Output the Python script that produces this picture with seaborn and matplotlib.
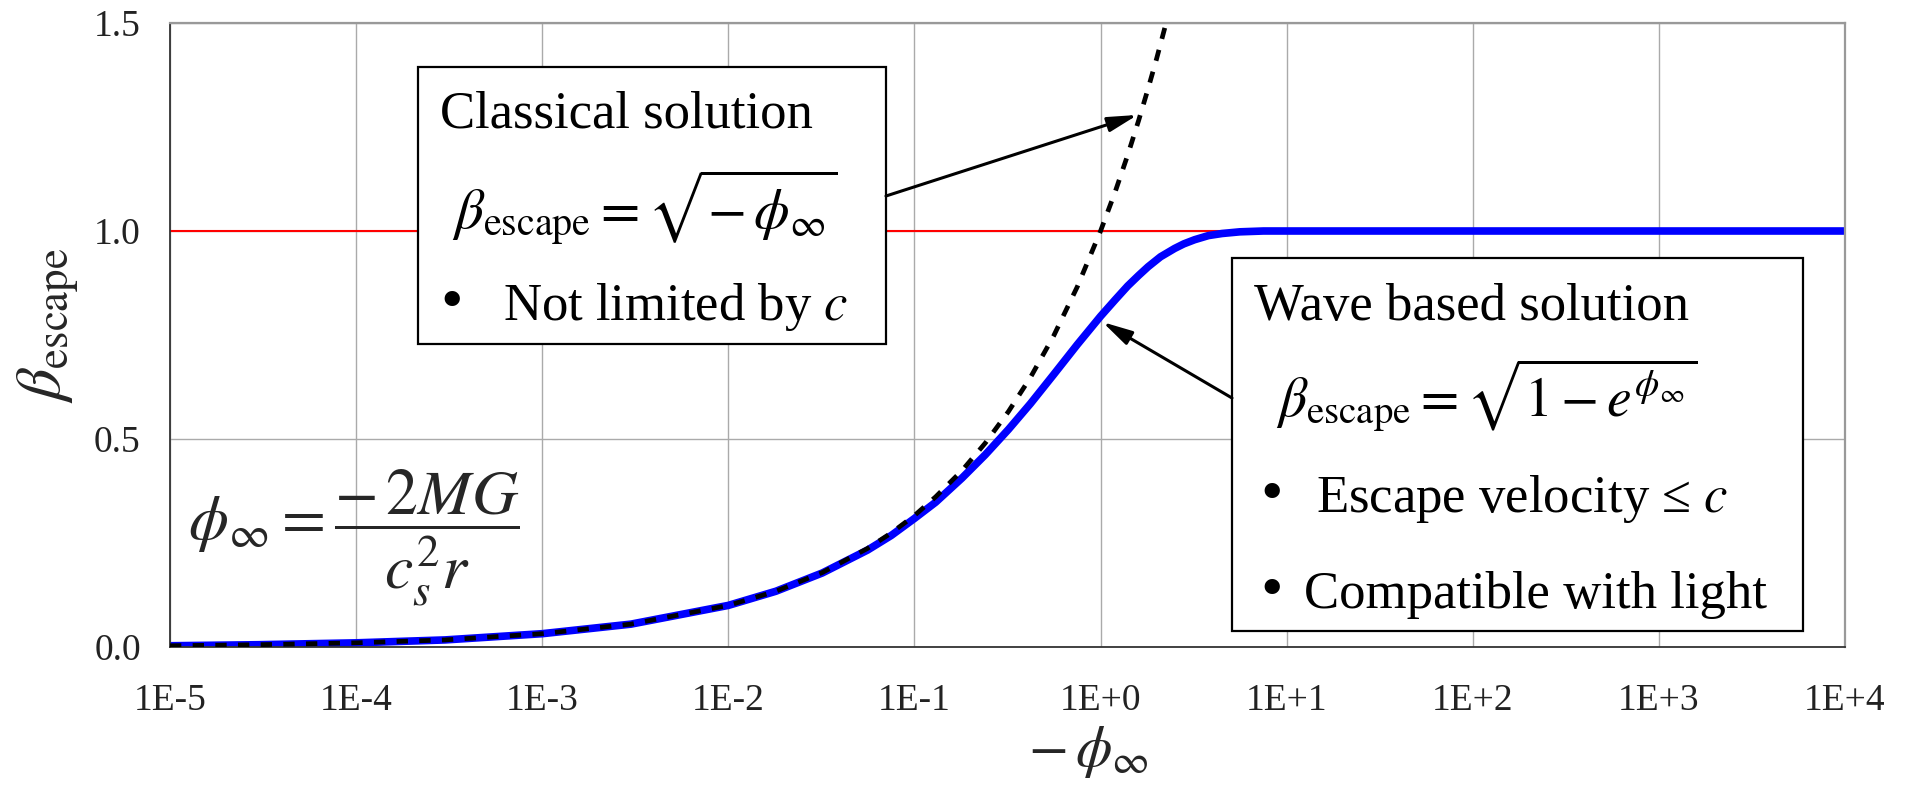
import numpy as np
import pandas as pd
import matplotlib
matplotlib.use("Agg")
import matplotlib.pyplot as plt
import seaborn as sns
from matplotlib.patches import Rectangle
from matplotlib.ticker import NullLocator

# values
phi_wave = [1e-5, 3e-5, 1e-4, 3e-4, 1e-3, 3e-3, 1e-2, 1.8e-2, 3.2e-2, 5.6e-2,
            0.075, 0.1, 0.13, 0.18, 0.24, 0.32, 0.42, 0.56, 0.75, 1.0, 1.2, 1.4,
            1.6, 1.8, 2.1, 2.5, 2.8, 3.2, 3.8, 4.5, 5.6, 7.5, 10, 100, 1e4]
beta_wave = [0.003, 0.0055, 0.010, 0.017, 0.032, 0.055, 0.100, 0.134, 0.178, 0.233,
             0.268, 0.309, 0.348, 0.406, 0.462, 0.523, 0.585, 0.655, 0.727, 0.795, 0.835, 0.868,
             0.893, 0.914, 0.938, 0.958, 0.969, 0.979, 0.989, 0.994, 0.998, 1.0,
             1.0, 1.0, 1.0]

phi_classic = [1e-5, 3e-5, 1e-4, 3e-4, 1e-3, 3e-3, 1e-2, 1.8e-2, 3.2e-2, 5.6e-2,
               0.075, 0.1, 0.13, 0.18, 0.24, 0.32, 0.42, 0.56, 0.75, 1.0, 1.2, 1.4,
               1.6, 1.8, 2.0, 2.25]
beta_classic = [0.003, 0.0055, 0.010, 0.017, 0.032, 0.055, 0.100, 0.134, 0.179, 0.237,
                0.274, 0.316, 0.361, 0.424, 0.490, 0.566, 0.648, 0.748, 0.866, 1.0, 1.095, 1.183,
                1.265, 1.342, 1.414, 1.5]

light_limit = 1.0
x_ticks = [1e-5, 1e-4, 1e-3, 1e-2, 1e-1, 1e0, 1e1, 1e2, 1e3, 1e4]
x_labels = ["1E-5", "1E-4", "1E-3", "1E-2", "1E-1", "1E+0", "1E+1", "1E+2", "1E+3", "1E+4"]
y_ticks = [0.0, 0.5, 1.0, 1.5]
y_labels = ["0.0", "0.5", "1.0", "1.5"]

wave_df = pd.DataFrame({"phi": phi_wave, "beta": beta_wave})
classic_df = pd.DataFrame({"phi": phi_classic, "beta": beta_classic})

sns.set_theme(style="white")
plt.rcParams["font.family"] = ["Liberation Serif", "DejaVu Serif"]
plt.rcParams["mathtext.fontset"] = "stix"

W, H = 1906, 791
fig = plt.figure(figsize=(W / 100, H / 100), dpi=100)
ax = fig.add_axes([170 / W, 1 - 647 / H, (1845 - 170) / W, (647 - 23) / H])


def fp(x, y):
    # pixel position in the figure -> figure fraction
    return (x / W, 1 - y / H)


ax.axhline(light_limit, color="red", lw=1.5, zorder=1)
sns.lineplot(data=wave_df, x="phi", y="beta", ax=ax, color="blue", lw=5.5, zorder=2)
sns.lineplot(data=classic_df, x="phi", y="beta", ax=ax, color="black", lw=3.4, zorder=3)
ax.lines[-1].set_linestyle((0, (2.4, 2.4)))

ax.set_xscale("log")
ax.set_xlim(1e-5, 1e4)
ax.set_ylim(0, 1.5)
ax.set_xticks(x_ticks)
ax.set_xticklabels(x_labels)
ax.xaxis.set_minor_locator(NullLocator())
ax.set_yticks(y_ticks)
ax.set_yticklabels(y_labels)
ax.tick_params(axis="both", labelsize=27, colors="#222222", direction="out", width=1.2)
ax.tick_params(axis="x", length=9.5, pad=17)
ax.tick_params(axis="y", length=8, pad=13)

ax.set_axisbelow(True)
ax.grid(True, color="#aaaaaa", lw=1.0)
for s in ["left", "bottom"]:
    ax.spines[s].set_color("#333333")
    ax.spines[s].set_linewidth(1.3)
for s in ["top", "right"]:
    ax.spines[s].set_color("#999999")
    ax.spines[s].set_linewidth(1.6)

ax.set_xlabel(r"$-\,\phi_\infty$", fontsize=42, va="center")
ax.xaxis.set_label_coords((1088 - 170) / 1675, (647 - 752) / 624)
ax.set_ylabel(r"$\beta_{\mathrm{escape}}$", fontsize=46, va="center")
ax.yaxis.set_label_coords((48 - 170) / 1675, (647 - 325) / 624)

# text boxes
for (x0, y0, x1, y1) in [(418, 67, 886, 344), (1232, 258, 1803, 631)]:
    ax.add_patch(Rectangle(fp(x0, y1), (x1 - x0) / W, (y1 - y0) / H,
                           transform=fig.transFigure, facecolor="white",
                           edgecolor="black", lw=1.6, zorder=5, clip_on=False))

txt = dict(transform=fig.transFigure, ha="left", va="baseline", zorder=6, color="black")
ax.text(*fp(440, 128), "Classical solution", fontsize=38, **txt)
ax.text(*fp(452, 230), r"$\beta_{\mathrm{escape}} = \sqrt{-\,\phi_\infty}$", fontsize=41, **txt)
ax.text(*fp(440, 320), "•", fontsize=46, **txt)
ax.text(*fp(503, 320), r"Not limited by $c$", fontsize=38, **txt)

ax.text(*fp(1254, 320), "Wave based solution", fontsize=38, **txt)
ax.text(*fp(1276, 417), r"$\beta_{\mathrm{escape}} = \sqrt{1 - e^{\phi_\infty}}$", fontsize=40, **txt)
ax.text(*fp(1260, 512), "•", fontsize=46, **txt)
ax.text(*fp(1316, 512), "Escape velocity ≤ $c$", fontsize=38, **txt)
ax.text(*fp(1260, 608), "•", fontsize=46, **txt)
ax.text(*fp(1304, 608), "Compatible with light", fontsize=38, **txt)

ax.text(*fp(188, 538), r"$\phi_\infty = \dfrac{-\,2MG}{c_s^{2}r}$", fontsize=46,
        transform=fig.transFigure, ha="left", va="center", zorder=6)

# arrows from boxes to curves
arrow = dict(arrowstyle="-|>,head_length=1.0,head_width=0.25", lw=2.2, color="black",
             mutation_scale=18, shrinkA=0, shrinkB=0)
ax.annotate("", xy=(1.58, 1.279), xycoords="data",
            xytext=fp(886, 196), textcoords="figure fraction", arrowprops=arrow, zorder=7)
ax.annotate("", xy=(1.025, 0.781), xycoords="data",
            xytext=fp(1232, 398), textcoords="figure fraction", arrowprops=arrow, zorder=7)

fig.savefig("out.png", dpi=100, facecolor="white")
